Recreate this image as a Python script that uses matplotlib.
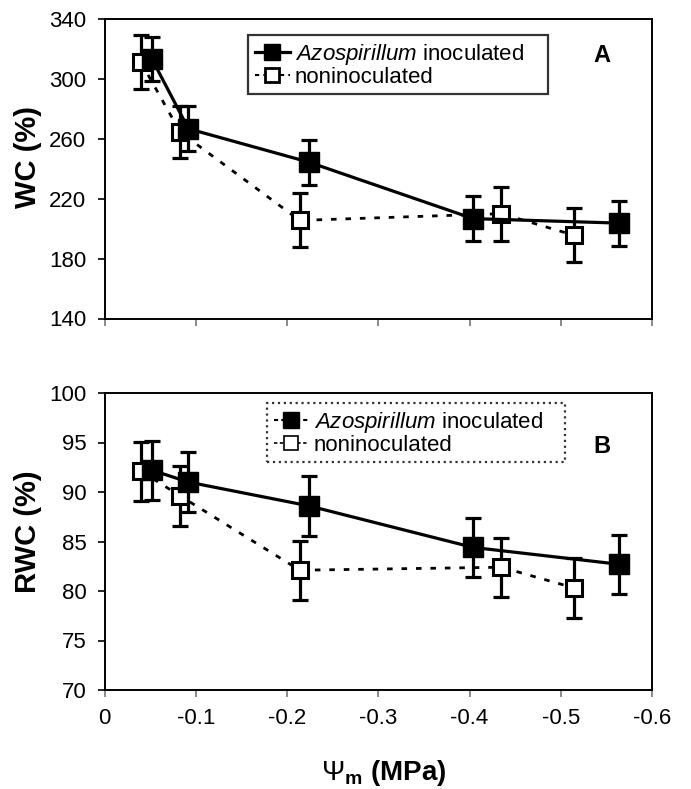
import matplotlib
matplotlib.use("Agg")
import matplotlib.pyplot as plt
from matplotlib.lines import Line2D

plt.rcParams['font.family'] = ['Liberation Sans', 'DejaVu Sans']
plt.rcParams['mathtext.fontset'] = 'custom'
plt.rcParams['mathtext.rm'] = 'Liberation Sans'
plt.rcParams['mathtext.it'] = 'Liberation Sans:italic'
plt.rcParams['mathtext.bf'] = 'Liberation Sans:bold'
plt.rcParams['axes.unicode_minus'] = False

# ---- data ----
psi_inoc = [-0.052, -0.092, -0.224, -0.404, -0.564]
psi_non = [-0.040, -0.083, -0.214, -0.435, -0.515]

wc_inoc = [313.3, 266.7, 244.4, 206.7, 203.7]
wc_inoc_err = [15, 15, 15, 15, 15]
wc_non = [311.1, 264.4, 205.5, 210.0, 195.5]
wc_non_err = [18, 17.5, 18, 18, 18]

rwc_inoc = [92.2, 91.0, 88.6, 84.4, 82.7]
rwc_inoc_err = [3.0, 3.0, 3.0, 3.0, 3.0]
rwc_non = [92.1, 89.6, 82.1, 82.4, 80.3]
rwc_non_err = [3.0, 3.0, 3.0, 3.0, 3.0]

xticks = [0, -0.1, -0.2, -0.3, -0.4, -0.5, -0.6]
xticklabels = ["0", "-0.1", "-0.2", "-0.3", "-0.4", "-0.5", "-0.6"]
wc_ticks = [140, 180, 220, 260, 300, 340]
rwc_ticks = [70, 75, 80, 85, 90, 95, 100]

lab_inoc = r"$\it{Azospirillum}$ inoculated"
lab_non = "noninoculated"

W, H = 691, 789
fig = plt.figure(figsize=(W / 100, H / 100), dpi=100)

def fx(px):
    return px / W

def fy(py):
    return 1 - py / H

ax1 = fig.add_axes([fx(104.5), fy(318.5), fx(652) - fx(104.5), fy(19) - fy(318.5)])
ax2 = fig.add_axes([fx(104.5), fy(690), fx(652) - fx(104.5), fy(393) - fy(690)])

LW = 2.3
FS = 16

def draw(ax, yi, yie, yn, yne):
    # noninoculated first (behind)
    ax.errorbar(psi_non, yn, yerr=yne, fmt='none', ecolor='black',
                elinewidth=LW, capsize=5.5, capthick=LW, zorder=2)
    ax.plot(psi_non, yn, linestyle=(0, (2.0, 3.2)), color='black', lw=2.0,
            marker='s', ms=11.5, mfc='white', mec='black', mew=2.2, zorder=3)
    ax.errorbar(psi_inoc, yi, yerr=yie, fmt='none', ecolor='black',
                elinewidth=LW, capsize=5.5, capthick=LW, zorder=4)
    ax.plot(psi_inoc, yi, linestyle='-', color='black', lw=2.3,
            marker='s', ms=14.5, mfc='black', mec='black', mew=1, zorder=5)
    ax.set_xlim(0, -0.6)
    ax.set_xticks(xticks)
    ax.set_xticklabels(xticklabels)
    for s in ax.spines.values():
        s.set_linewidth(1.4)
        s.set_color('black')
    ax.tick_params(axis='both', direction='out', length=5, width=1.2,
                   labelsize=FS, colors='black')
    ax.tick_params(axis='x', pad=8, color='#777777')
    ax.tick_params(axis='y', pad=8)

draw(ax1, wc_inoc, wc_inoc_err, wc_non, wc_non_err)
ax1.set_ylim(140, 340)
ax1.set_yticks(wc_ticks)
ax1.tick_params(axis='x', labelbottom=False)

draw(ax2, rwc_inoc, rwc_inoc_err, rwc_non, rwc_non_err)
ax2.set_ylim(70, 100)
ax2.set_yticks(rwc_ticks)

fig.text(fx(28), fy(157), "WC (%)", fontsize=21, fontweight='bold',
         rotation=90, ha='center', va='center')
fig.text(fx(28), fy(532), "RWC (%)", fontsize=21, fontweight='bold',
         rotation=90, ha='center', va='center')
fig.text(fx(384), fy(773), r"$\Psi_\mathbf{m}$ (MPa)", fontsize=20, fontweight='bold',
         ha='center', va='center')

LFS = 16

# Legends
hA = [Line2D([], [], color='black', lw=2.3, marker='s', ms=12, mfc='black', mec='black'),
      Line2D([], [], color='black', lw=1.5, linestyle=(0, (2, 2)), marker='s', ms=10,
             mfc='white', mec='black', mew=2)]
legA = ax1.legend(hA, [lab_inoc, lab_non], loc='upper left', mode='expand',
                  bbox_to_anchor=(fx(248), fy(95), fx(548) - fx(248), fy(35) - fy(95)),
                  bbox_transform=fig.transFigure,
                  fontsize=LFS, frameon=True, fancybox=False, edgecolor='black',
                  handlelength=1.6, handletextpad=0.2, borderpad=0.3,
                  labelspacing=0.0, borderaxespad=0)
legA.get_frame().set_linewidth(1.6)

hB = [Line2D([], [], color='black', lw=1.5, linestyle=(0, (2, 1.5)), marker='s', ms=11,
             mfc='black', mec='black'),
      Line2D([], [], color='black', lw=1.2, linestyle=(0, (2, 1.5)), marker='s', ms=10,
             mfc='white', mec='black', mew=1.2)]
legB = ax2.legend(hB, [lab_inoc, lab_non], loc='upper left', mode='expand',
                  bbox_to_anchor=(fx(267), fy(462), fx(565) - fx(267), fy(403) - fy(462)),
                  bbox_transform=fig.transFigure,
                  fontsize=LFS, frameon=True, fancybox=False, edgecolor='black',
                  handlelength=1.6, handletextpad=0.2, borderpad=0.3,
                  labelspacing=0.0, borderaxespad=0)
legB.get_frame().set_linewidth(1.6)
legB.get_frame().set_linestyle(':')

fig.text(fx(602), fy(56), "A", fontsize=17, fontweight='bold', ha='center', va='center')
fig.text(fx(602), fy(447), "B", fontsize=17, fontweight='bold', ha='center', va='center')

fig.savefig("out.png", dpi=100)
